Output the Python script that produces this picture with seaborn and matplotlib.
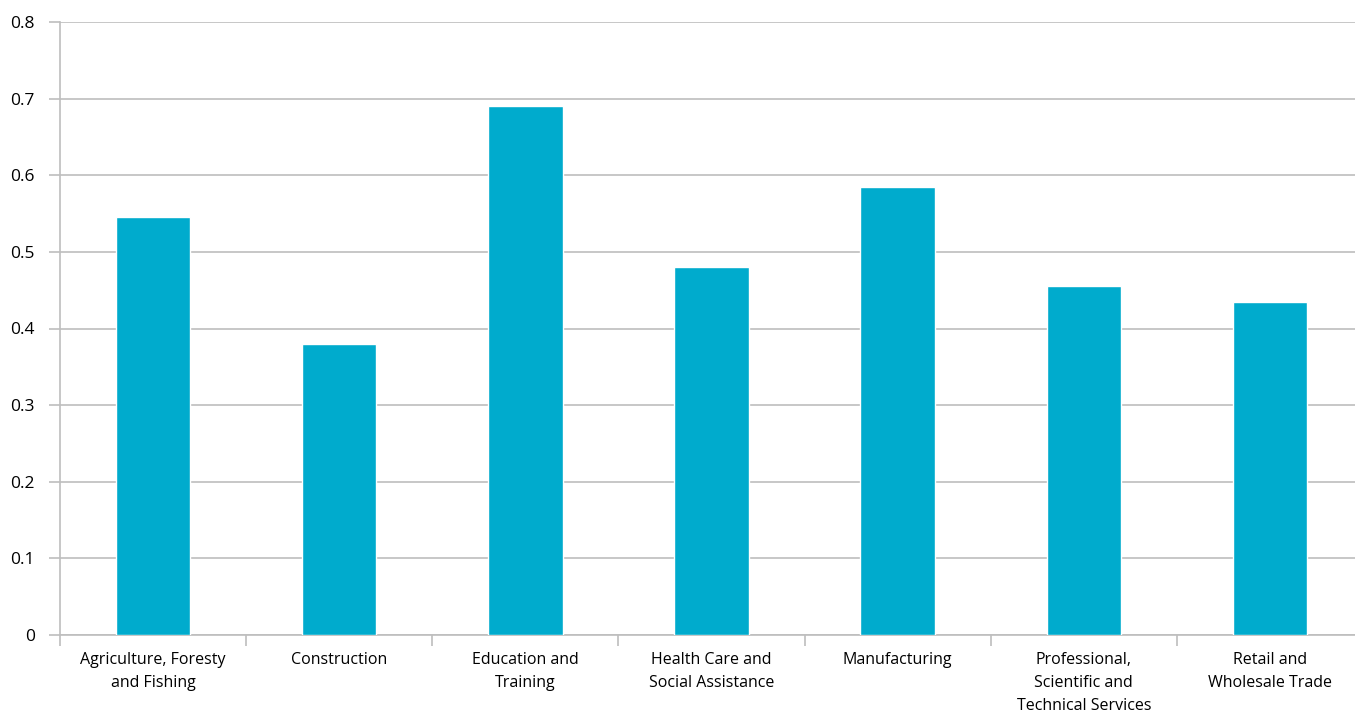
import matplotlib
matplotlib.use("Agg")
import matplotlib.pyplot as plt
import seaborn as sns
import pandas as pd

categories = [
    "Agriculture, Foresty\nand Fishing",
    "Construction",
    "Education and\nTraining",
    "Health Care and\nSocial Assistance",
    "Manufacturing",
    "Professional,\nScientific and\nTechnical Services",
    "Retail and\nWholesale Trade",
]
values = [0.545, 0.38, 0.69, 0.48, 0.585, 0.455, 0.435]
y_ticks = [0, 0.1, 0.2, 0.3, 0.4, 0.5, 0.6, 0.7, 0.8]
y_tick_labels = ["0", "0.1", "0.2", "0.3", "0.4", "0.5", "0.6", "0.7", "0.8"]

sns.set_theme(style="white")
plt.rcParams["font.family"] = ["Open Sans", "DejaVu Sans"]

df = pd.DataFrame({"industry": categories, "value": values})

fig = plt.figure(figsize=(13.55, 7.15), dpi=100)
ax = fig.add_axes([60 / 1355, 1 - 635 / 715, (1363 - 60) / 1355, (635 - 22) / 715])

grid_col = "#BEBEBE"
bar_col = "#00ABCD"

sns.barplot(data=df, x="industry", y="value", color=bar_col, width=0.4,
            saturation=1, ax=ax, zorder=3)

ax.set_ylim(0, 0.8)
ax.set_xlim(-0.5, len(categories) - 0.5)
ax.set_yticks(y_ticks)
ax.set_yticklabels(y_tick_labels)
ax.set_xlabel("")
ax.set_ylabel("")

ax.yaxis.grid(True, color=grid_col, linewidth=1.2, zorder=0)
ax.set_axisbelow(True)

for side in ["top", "right"]:
    ax.spines[side].set_visible(False)
for side in ["left", "bottom"]:
    ax.spines[side].set_color(grid_col)
    ax.spines[side].set_linewidth(1.2)

# y ticks extend gridlines to the left of the axis
ax.tick_params(axis="y", which="major", left=True, length=8, width=1.2,
               color=grid_col, pad=10, labelsize=12.5, labelcolor="black")

# x ticks sit at category boundaries
ax.set_xticks([i - 0.5 for i in range(len(categories) + 1)], minor=True)
ax.set_xticks(range(len(categories)))
ax.set_xticklabels(categories, fontsize=11.5, linespacing=1.6, color="black")
ax.tick_params(axis="x", which="major", bottom=False, pad=6)
ax.tick_params(axis="x", which="minor", bottom=True, length=8, width=1.2,
               color=grid_col)
for lbl in ax.get_xticklabels():
    lbl.set_verticalalignment("top")

fig.savefig("out.png", dpi=100)
